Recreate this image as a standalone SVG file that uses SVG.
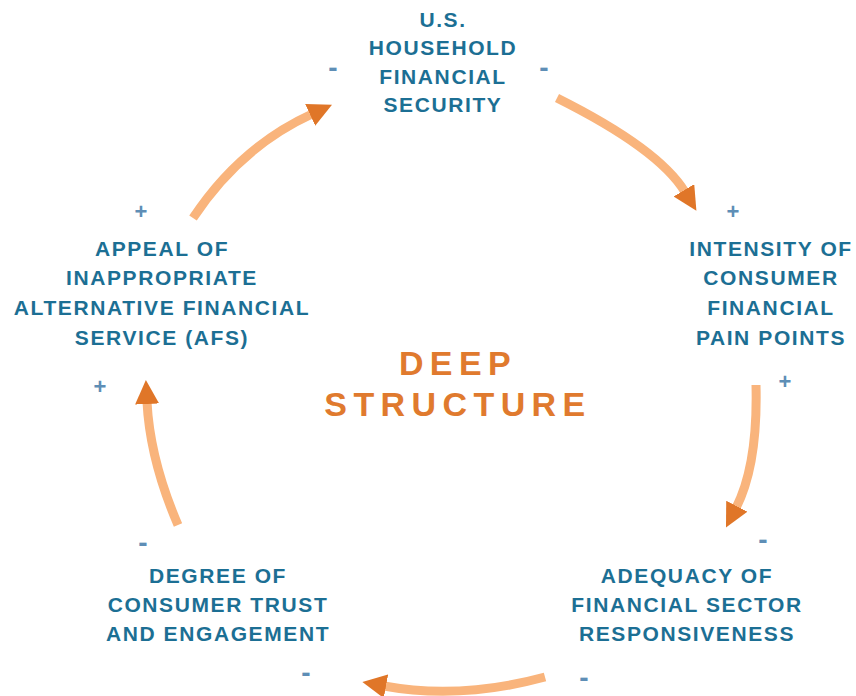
<svg xmlns="http://www.w3.org/2000/svg" width="856" height="696" viewBox="0 0 856 696">
<style>
.lbl{font-family:"Liberation Sans",Arial,sans-serif;font-weight:bold;font-size:21px;letter-spacing:1.6px;fill:#1C6F94;text-anchor:middle}
.big{font-family:"Liberation Sans",Arial,sans-serif;font-weight:bold;font-size:34px;letter-spacing:6.4px;fill:#E07A2E;text-anchor:middle}
.sg{font-family:"Liberation Sans",Arial,sans-serif;font-weight:bold;font-size:22px;fill:#5E8EB6;text-anchor:middle}
.sm{font-family:"Liberation Sans",Arial,sans-serif;font-weight:bold;font-size:28px;fill:#5E8EB6;text-anchor:middle}
.arr{fill:none;stroke:#F9B47C;stroke-width:9;marker-end:url(#ah)}
</style>
<defs>
<marker id="ah" viewBox="0 0 24 24" refX="2" refY="12" markerWidth="24" markerHeight="24" markerUnits="userSpaceOnUse" orient="auto">
<path d="M0,0 L24,12 L0,24 z" fill="#E07628"/>
</marker>
</defs>
<rect width="856" height="696" fill="#ffffff"/>
<g id="connectors">
<path class="arr" d="M557,98 Q659,149 685,192"/>
<path class="arr" d="M756,385 Q758,465 736,508"/>
<path class="arr" d="M545,677 Q460,700 384,686"/>
<path class="arr" d="M178,525 Q150,460 147,402"/>
<path class="arr" d="M193,218 Q240,147 312,114"/>
</g>
<g id="n-security">
<text class="lbl" x="443" y="27">U.S.</text>
<text class="lbl" x="443" y="55">HOUSEHOLD</text>
<text class="lbl" x="443" y="84">FINANCIAL</text>
<text class="lbl" x="443" y="112">SECURITY</text>
<text class="sm" x="333" y="77">-</text>
<text class="sm" x="544" y="77">-</text>
</g>
<g id="n-pain">
<text class="lbl" x="771" y="256">INTENSITY OF</text>
<text class="lbl" x="771" y="285">CONSUMER</text>
<text class="lbl" x="771" y="315">FINANCIAL</text>
<text class="lbl" x="771" y="345">PAIN POINTS</text>
<text class="sg" x="733" y="219">+</text>
<text class="sg" x="785" y="389">+</text>
</g>
<g id="n-adequacy">
<text class="lbl" x="687" y="583">ADEQUACY OF</text>
<text class="lbl" x="687" y="612">FINANCIAL SECTOR</text>
<text class="lbl" x="687" y="641">RESPONSIVENESS</text>
<text class="sm" x="763" y="549">-</text>
<text class="sm" x="584" y="687">-</text>
</g>
<g id="n-trust">
<text class="lbl" x="218" y="583">DEGREE OF</text>
<text class="lbl" x="218" y="612">CONSUMER TRUST</text>
<text class="lbl" x="218" y="641">AND ENGAGEMENT</text>
<text class="sm" x="306" y="682">-</text>
<text class="sm" x="143" y="552">-</text>
</g>
<g id="n-afs">
<text class="lbl" x="162" y="256">APPEAL OF</text>
<text class="lbl" x="162" y="285">INAPPROPRIATE</text>
<text class="lbl" x="162" y="315">ALTERNATIVE FINANCIAL</text>
<text class="lbl" x="162" y="345">SERVICE (AFS)</text>
<text class="sg" x="100" y="394">+</text>
<text class="sg" x="141" y="219">+</text>
</g>
<g id="center">
<text class="big" x="458" y="375">DEEP</text>
<text class="big" x="458" y="416">STRUCTURE</text>
</g>
</svg>
